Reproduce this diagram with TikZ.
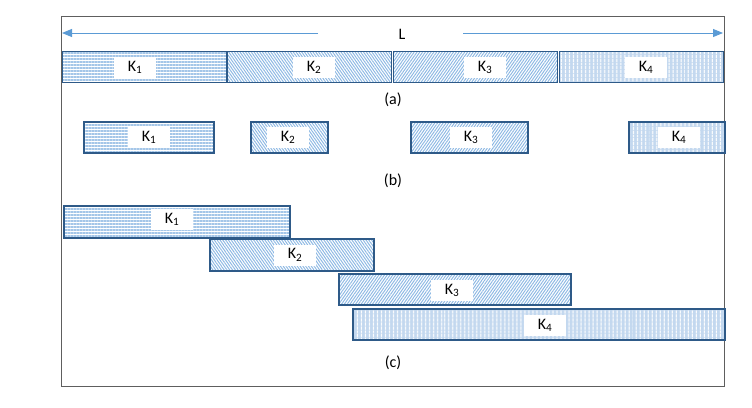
\documentclass[tikz,border=0pt]{standalone}
\usepackage{fontspec}
\setmainfont{Carlito}
\usetikzlibrary{patterns.meta,arrows.meta}
\definecolor{edge}{HTML}{2E5A88}
\definecolor{hatch}{HTML}{8DB8E3}
\definecolor{hatchA}{HTML}{A4C6E8}
\definecolor{lblue}{HTML}{C3D8EF}
\definecolor{arr}{HTML}{5B9BD5}
\definecolor{frame}{HTML}{5E5E5E}
\tikzset{
  bar/.style={draw=edge, line width=1.5pt, inner sep=0pt, anchor=north west},
  pA/.style={pattern={Lines[angle=0,distance=3pt,line width=1.2pt]}, pattern color=hatchA},
  pB/.style={pattern={Lines[angle=-55,distance=2.3pt,line width=1pt]}, pattern color=hatch},
  pC/.style={pattern={Lines[angle=55,distance=2.3pt,line width=1pt]}, pattern color=hatch},
  pD/.style={preaction={fill=lblue}, pattern={Lines[angle=90,distance=4pt,line width=1pt]}, pattern color=white},
  lbl/.style={fill=white, minimum width=42pt, minimum height=21pt, inner sep=0pt, font=\fontsize{16}{16}\selectfont},
  captxt/.style={font=\fontsize{16}{16}\selectfont, inner sep=0pt},
  dim/.style={draw=arr, line width=1pt, -{Triangle[length=10pt,width=8pt]}}
}
\newcommand{\barnode}[6]{% name, style, x1, y1, x2, y2
  \node[bar,#2, minimum width=#5pt-#3pt, minimum height=#6pt-#4pt] (#1) at (#3,#4) {};}
\newcommand{\kk}[1]{K\textsubscript{#1}}
\begin{document}
\begin{tikzpicture}[x=1pt,y=-1pt]
\useasboundingbox (0,0) rectangle (752,407);
\draw[frame, line width=1pt] (61,16) rectangle (724,386);

% dimension arrow
\node[captxt] (L) at (402,34) {L};
\coordinate (la) at (318,33);
\coordinate (lb) at (62,33);
\coordinate (ra) at (463,33);
\coordinate (rb) at (723,33);
\draw[dim] (la) -- (lb);
\draw[dim] (ra) -- (rb);

% (a)
\barnode{a1}{pA}{62}{51}{226}{82}
\barnode{a2}{pB}{227}{51}{391}{82}
\barnode{a3}{pC}{393}{51}{557}{82}
\barnode{a4}{pD}{559}{51}{723}{82}
\node[lbl] (la1) at (135,67.5) {\kk{1}};
\node[lbl] (la2) at (314,67.5) {\kk{2}};
\node[lbl] (la3) at (485,67.5) {\kk{3}};
\node[lbl] (la4) at (646,67.5) {\kk{4}};
\node[captxt] (capa) at (393,100) {(a)};

% (b)
\barnode{b1}{pA}{83}{121}{213}{152}
\barnode{b2}{pB}{250}{121}{327}{152}
\barnode{b3}{pC}{410}{121}{527}{152}
\barnode{b4}{pD}{628}{121}{724}{152}
\node[lbl] (lb1) at (149,137.5) {\kk{1}};
\node[lbl] (lb2) at (288,137.5) {\kk{2}};
\node[lbl] (lb3) at (471,137.5) {\kk{3}};
\node[lbl] (lb4) at (679,137.5) {\kk{4}};
\node[captxt] (capb) at (393,181) {(b)};

% (c)
\barnode{c1}{pA}{63}{205}{289}{237}
\barnode{c2}{pB}{209}{238}{373}{270}
\barnode{c3}{pC}{338}{273}{570}{304}
\barnode{c4}{pD}{352}{308}{724}{339}
\node[lbl] (lc1) at (172,219.5) {\kk{1}};
\node[lbl] (lc2) at (295,255) {\kk{2}};
\node[lbl] (lc3) at (452,290.5) {\kk{3}};
\node[lbl] (lc4) at (545,325.5) {\kk{4}};
\node[captxt] (capc) at (393,363) {(c)};
\end{tikzpicture}
\end{document}
